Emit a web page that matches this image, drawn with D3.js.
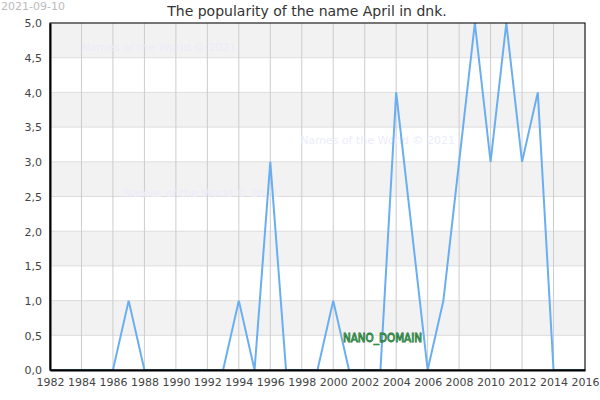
<!DOCTYPE html>
<html>
<head>
<meta charset="utf-8">
<script src="https://cdnjs.cloudflare.com/ajax/libs/d3/7.8.5/d3.min.js"></script>
<style>
  body { margin: 0; background: white; }
  text { font-family: "DejaVu Sans", sans-serif; }
</style>
</head>
<body>
<div id="chart"></div>
<script>
// data
const years = [1982, 1983, 1984, 1985, 1986, 1987, 1988, 1989, 1990, 1991, 1992, 1993,
  1994, 1995, 1996, 1997, 1998, 1999, 2000, 2001, 2002, 2003, 2004, 2005, 2006, 2007,
  2008, 2009, 2010, 2011, 2012, 2013, 2014, 2015, 2016];
const counts = [0, 0, 0, 0, 0, 1, 0, 0, 0, 0, 0, 0,
  1, 0, 3, 0, 0, 0, 1, 0, 0, 0, 4, 2, 0, 1,
  3, 5, 3, 5, 3, 4, 0, 0, 0];
const xTicks = d3.range(1982, 2017, 2);
const yTicks = [0, 0.5, 1, 1.5, 2, 2.5, 3, 3.5, 4, 4.5, 5];
const title = "The popularity of the name April in dnk.";
const dateLabel = "2021-09-10";
const watermarks = [
  {text: "Names of the World © 2021", x: 1984, y: 4.6},
  {text: "Names of the World © 2021", x: 1997.9, y: 3.25},
  {text: "Names of the World © 2021", x: 1986.7, y: 2.5}
];

let width = 600, height = 400;
let margin = {top: 23, bottom: 30, left: 50, right: 15};

let data = years.map((y, i) => ({year: y, value: counts[i]}));

let svg = d3.select('#chart')
  .append('svg')
  .attr('width', width)
  .attr('height', height)
  .style('background', 'white');

let xScale = d3.scaleLinear()
  .domain([1982, 2016])
  .range([margin.left, width - margin.right]);

let yScale = d3.scaleLinear()
  .domain([0, 5])
  .range([height - margin.bottom, margin.top]);

// alternating bands
for (let i = 0; i < yTicks.length - 1; i++) {
  if (i % 2 === 1) {
    svg.append('rect')
      .attr('x', margin.left)
      .attr('y', yScale(yTicks[i + 1]))
      .attr('width', xScale(2016) - margin.left)
      .attr('height', yScale(yTicks[i]) - yScale(yTicks[i + 1]))
      .attr('fill', '#f2f2f2');
  }
}

// horizontal grid
svg.append('g')
  .selectAll('line')
  .data(yTicks)
  .enter()
  .append('line')
    .attr('x1', margin.left)
    .attr('x2', xScale(2016))
    .attr('y1', d => yScale(d))
    .attr('y2', d => yScale(d))
    .attr('stroke', '#dddddd')
    .attr('stroke-width', 1);

// vertical grid
svg.append('g')
  .selectAll('line')
  .data(xTicks)
  .enter()
  .append('line')
    .attr('x1', d => xScale(d))
    .attr('x2', d => xScale(d))
    .attr('y1', yScale(0))
    .attr('y2', yScale(5))
    .attr('stroke', '#cccccc')
    .attr('stroke-width', 1);

// watermarks
svg.append('g')
  .selectAll('text')
  .data(watermarks)
  .enter()
  .append('text')
    .attr('x', d => xScale(d.x))
    .attr('y', d => yScale(d.y))
    .attr('font-size', 11)
    .attr('fill', '#ececfb')
    .text(d => d.text);

// line
let line = d3.line()
  .x(d => xScale(d.year))
  .y(d => yScale(d.value));

svg.append('path')
  .datum(data)
  .attr('d', line)
  .attr('fill', 'none')
  .attr('stroke', '#6aaef2')
  .attr('stroke-width', 2);

// frame
svg.append('rect')
  .attr('x', margin.left)
  .attr('y', margin.top)
  .attr('width', xScale(2016) - margin.left)
  .attr('height', yScale(0) - margin.top)
  .attr('fill', 'none')
  .attr('stroke', 'black')
  .attr('stroke-width', 1);

// axes
let xAxis = svg.append('g')
  .attr('transform', `translate(0,${yScale(0)})`)
  .call(d3.axisBottom(xScale).tickValues(xTicks).tickFormat(d3.format('d')).tickSize(0).tickPadding(8));
xAxis.select('.domain').attr('stroke', 'black').attr('stroke-width', 2);
xAxis.selectAll('text').attr('font-size', 11).attr('fill', '#444').style('font-family', '"DejaVu Sans", sans-serif');

let yAxis = svg.append('g')
  .attr('transform', `translate(${margin.left},0)`)
  .call(d3.axisLeft(yScale).tickValues(yTicks).tickFormat(d => d.toFixed(1).replace('.', ',')).tickSize(0).tickPadding(8));
yAxis.select('.domain').attr('stroke', 'black').attr('stroke-width', 2);
yAxis.selectAll('text').attr('font-size', 11).attr('fill', '#444').attr('dy', '0.35em').style('font-family', '"DejaVu Sans", sans-serif');

// title
svg.append('text')
  .attr('x', 307)
  .attr('y', 16)
  .attr('text-anchor', 'middle')
  .attr('font-size', 14)
  .attr('fill', '#333')
  .text(title);

// date (kept fully inside the picture)
svg.append('text')
  .attr('x', 1)
  .attr('y', 10)
  .attr('font-size', 11)
  .attr('fill', '#bbb')
  .text(dateLabel);

// NANO_DOMAIN label
svg.append('text')
  .attr('x', 343)
  .attr('y', 342)
  .attr('font-size', 12)
  .attr('textLength', 79)
  .attr('lengthAdjust', 'spacingAndGlyphs')
  .attr('fill', '#2e9a4a')
  .attr('stroke', '#1e5a2e')
  .attr('stroke-width', 0.8)
  .attr('paint-order', 'stroke')
  .text('NANO_DOMAIN');
</script>
</body>
</html>
